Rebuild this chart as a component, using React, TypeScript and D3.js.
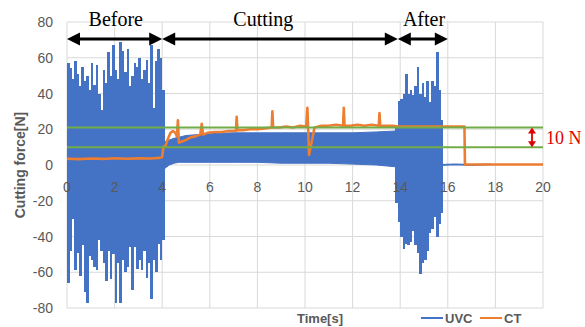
import React from 'react';
import * as d3 from 'd3';

const W = 585;
const H = 327;

// UVC signal before cutting, one peak/trough pair every 0.1 s from 0 s
const uvcBeforeMax = [57, 54, 48, 58, 51, 44, 55, 47, 50, 42, 57, 45, 56, 40, 31, 53, 46, 63, 50, 67, 53, 48, 69, 64, 52, 65, 44, 50, 57, 55, 60, 48, 53, 59, 46, 67, 32, 58, 65, 60, 42];
const uvcBeforeMin = [-66, -48, -30, -59, -49, -62, -45, -71, -77, -51, -53, -57, -59, -42, -48, -55, -65, -48, -64, -50, -77, -55, -77, -53, -60, -57, -46, -70, -46, -58, -53, -59, -48, -63, -55, -75, -53, -60, -44, -53, -42];

// UVC band while cutting
const uvcCutTime = [4.1, 4.3, 4.5, 4.7, 5, 5.5, 6, 7, 8, 9, 10, 11, 12, 13, 13.8];
const uvcCutMax = [13, 14, 15, 15.5, 16.5, 17, 17.5, 18, 18, 18, 18, 18, 18, 18.5, 19];
const uvcCutMin = [-2, 0, 1, 1.5, 1.5, 1.5, 1.5, 1.5, 1.5, 1, 1, 1, 0.5, 0, -1];

// UVC after cutting, pairs every 0.1 s from 13.8 s
const uvcAfterMax = [22, 36, 37, 40, 51, 40, 42, 39, 44, 55, 40, 46, 38, 47, 35, 47, 44, 63, 42, 25];
const uvcAfterMin = [-21, -32, -40, -47, -44, -45, -43, -37, -45, -49, -61, -55, -53, -48, -38, -36, -29, -40, -33, -27];

const uvcTailTime = [15.7, 16.3, 17, 17.8];
const uvcTailForce = [0, 0.4, 0, 0.3];

// CT signal
const ctTime = [0, 0.5, 1, 1.5, 2, 2.5, 3, 3.5, 3.9, 4.0, 4.05, 4.15, 4.25, 4.35, 4.45, 4.55, 4.62, 4.66, 4.7, 4.8, 5.0, 5.2, 5.4, 5.6, 5.66, 5.72, 5.9, 6.2, 6.5, 6.8, 7.1, 7.13, 7.16, 7.4, 7.7, 8.0, 8.3, 8.6, 8.63, 8.66, 8.9, 9.2, 9.5, 9.8, 10.05, 10.1, 10.13, 10.17, 10.4, 10.7, 11.0, 11.3, 11.6, 11.63, 11.66, 11.9, 12.2, 12.5, 12.8, 13.1, 13.13, 13.16, 13.4, 13.7, 13.9, 16.7, 16.72, 20];
const ctForce = [3.5, 3.3, 3.6, 3.4, 3.8, 3.5, 3.7, 3.6, 4, 4.5, 10, 11, 15, 18, 19, 18, 16, 25, 12.5, 13, 14, 15.5, 16, 17, 23, 17, 18, 18.5, 18.5, 19, 19, 27, 19.5, 19.5, 20, 20, 20.5, 21, 30, 21, 21, 21.5, 21, 22, 21.5, 32, 21, 5.6, 21, 22, 22, 22.5, 22, 32, 22, 22, 22.5, 22, 22.5, 22, 29, 22, 22, 22, 21.5, 21.5, 0.3, 0.3];

const yTicks = [-80, -60, -40, -20, 0, 20, 40, 60, 80];
const xTicks = [0, 2, 4, 6, 8, 10, 12, 14, 16, 18, 20];
const guideLevels = [21, 10];
const phaseLabels = ['Before', 'Cutting', 'After'];
const phaseBounds = [0, 4, 13.9, 16];
const phaseLabelAt = [2.05, 8.25, 15.0];

const BLUE = '#4472C4';
const ORANGE = '#ED7D31';
const GREEN = '#70AD47';
const GRAY = '#595959';
const SANS = 'Liberation Sans, Arial, sans-serif';
const SERIF = 'Liberation Serif, Times New Roman, serif';

export default function App() {
  const x = d3.scaleLinear().domain([0, 20]).range([67, 543]);
  const y = d3.scaleLinear().domain([-80, 80]).range([308, 22]);

  const line = d3
    .line<number[]>()
    .x((d) => x(d[0]))
    .y((d) => y(d[1]));

  const band = d3
    .area<number>()
    .x((t) => x(t))
    .y0((_, i) => y(uvcCutMin[i]))
    .y1((_, i) => y(uvcCutMax[i]));

  // peak-to-trough columns, 0.1 s wide
  const swings = (start: number, max: number[], min: number[]) =>
    max.map((v, i) => ({ t: start + i * 0.1, hi: v, lo: min[i] }));
  const before = swings(0, uvcBeforeMax, uvcBeforeMin);
  const after = swings(13.8, uvcAfterMax, uvcAfterMin);
  const colW = x(0.1) - x(0);

  const tail = uvcTailTime.map((t, i) => [t, uvcTailForce[i]]);
  const ct = ctTime.map((t, i) => [t, ctForce[i]]);

  const arrowY = 39;
  const head = (px: number, dir: number) =>
    `M${px},${arrowY} L${px + dir * 13},${arrowY - 6.5} L${px + dir * 13},${arrowY + 6.5} Z`;

  const redX = 532;
  const y1 = y(guideLevels[0]);
  const y2 = y(guideLevels[1]);

  return (
    <div style={{ position: 'fixed', left: 0, top: 0 }}>
      <svg width={W} height={H} style={{ display: 'block', background: '#fff' }}>
        {/* grid */}
        {yTicks.map((v) => (
          <line key={'gy' + v} x1={x(0)} x2={x(20)} y1={y(v)} y2={y(v)} stroke="#d9d9d9" strokeWidth={1} />
        ))}
        {xTicks.map((v) => (
          <line key={'gx' + v} x1={x(v)} x2={x(v)} y1={y(80)} y2={y(-80)} stroke="#d9d9d9" strokeWidth={1} />
        ))}

        {/* UVC */}
        {[...before, ...after].map((d, i) => (
          <rect
            key={'s' + i}
            x={x(d.t)}
            width={colW + 0.25}
            y={y(d.hi)}
            height={y(d.lo) - y(d.hi)}
            fill={BLUE}
            shapeRendering="crispEdges"
          />
        ))}
        <path d={band(uvcCutTime) || ''} fill={BLUE} stroke={BLUE} strokeWidth={1} />
        <path d={line(tail) || ''} fill="none" stroke={BLUE} strokeWidth={1.8} />

        {/* CT */}
        <path d={line(ct) || ''} fill="none" stroke={ORANGE} strokeWidth={2.6} strokeLinejoin="round" />

        {/* guide levels */}
        {guideLevels.map((v) => (
          <line key={'g' + v} x1={x(0)} x2={x(20)} y1={y(v)} y2={y(v)} stroke={GREEN} strokeWidth={2} />
        ))}

        {/* tick labels */}
        <g fontFamily={SANS} fontSize={14} fill={GRAY}>
          {yTicks.map((v) => (
            <text key={'ty' + v} x={53} y={y(v)} textAnchor="end" dominantBaseline="central">
              {v}
            </text>
          ))}
          {xTicks.map((v) => (
            <text key={'tx' + v} x={x(v)} y={y(0) + 22} textAnchor="middle" dominantBaseline="central">
              {v}
            </text>
          ))}
        </g>

        {/* axis titles */}
        <text
          transform={`translate(20,${y(0)}) rotate(-90)`}
          textAnchor="middle"
          dominantBaseline="central"
          fontFamily={SANS}
          fontWeight="bold"
          fontSize={14}
          fill={GRAY}
        >
          Cutting force[N]
        </text>
        <text x={320} y={318} textAnchor="middle" dominantBaseline="central" fontFamily={SANS} fontWeight="bold" fontSize={13} fill={GRAY}>
          Time[s]
        </text>

        {/* legend */}
        <g fontFamily={SANS} fontWeight="bold" fontSize={13} fill={GRAY}>
          <line x1={421} x2={443} y1={318} y2={318} stroke={BLUE} strokeWidth={2} />
          <text x={445} y={318} dominantBaseline="central">UVC</text>
          <line x1={480} x2={502} y1={318} y2={318} stroke={ORANGE} strokeWidth={2} />
          <text x={504} y={318} dominantBaseline="central">CT</text>
        </g>

        {/* phase arrows */}
        {phaseLabels.map((lab, i) => {
          const a = x(phaseBounds[i]);
          const b = x(phaseBounds[i + 1]);
          return (
            <g key={lab}>
              <line x1={a + 8} x2={b - 8} y1={arrowY} y2={arrowY} stroke="#000" strokeWidth={3} />
              <path d={head(a, 1)} fill="#000" />
              <path d={head(b, -1)} fill="#000" />
              <text x={x(phaseLabelAt[i])} y={26} textAnchor="middle" fontFamily={SERIF} fontSize={20} fill="#000">
                {lab}
              </text>
            </g>
          );
        })}

        {/* 10 N marker */}
        <line x1={redX} x2={redX} y1={y1 + 5} y2={y2 - 5} stroke="#e00000" strokeWidth={1.8} />
        <path d={`M${redX},${y1} L${redX - 4},${y1 + 6} L${redX + 4},${y1 + 6} Z`} fill="#e00000" />
        <path d={`M${redX},${y2} L${redX - 4},${y2 - 6} L${redX + 4},${y2 - 6} Z`} fill="#e00000" />
        <text x={546} y={144} fontFamily={SERIF} fontSize={18} fill="#e00000">
          10 N
        </text>
      </svg>
    </div>
  );
}
